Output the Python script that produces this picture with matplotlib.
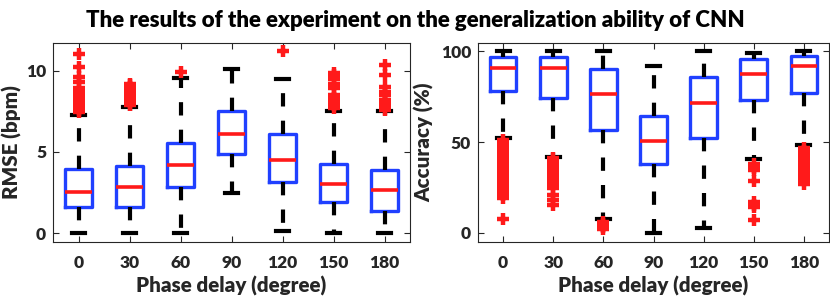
import matplotlib
matplotlib.use("Agg")
import matplotlib.pyplot as plt

phase_labels = ["0", "30", "60", "90", "120", "150", "180"]

# RMSE (bpm) box statistics
rmse_q1 = [1.60, 1.60, 2.84, 4.84, 3.15, 1.91, 1.36]
rmse_med = [2.55, 2.82, 4.20, 6.07, 4.49, 3.02, 2.67]
rmse_q3 = [3.97, 4.14, 5.53, 7.49, 6.11, 4.28, 3.91]
rmse_lo = [0.00, 0.00, 0.00, 2.49, 0.10, 0.00, 0.00]
rmse_hi = [7.26, 7.78, 9.57, 10.08, 9.47, 7.53, 7.53]
rmse_fliers = [
    [7.45, 7.6, 7.75, 7.9, 8.0, 8.15, 8.3, 8.5, 8.7, 8.9, 9.3, 9.6, 10.2, 11.03],
    [7.9, 8.0, 8.1, 8.2, 8.3, 8.4, 8.5, 8.6, 8.7, 8.8, 8.9, 9.0, 9.1, 9.2],
    [9.94],
    [],
    [11.19],
    [7.7, 7.9, 8.1, 8.3, 8.5, 8.9, 9.2, 9.5, 9.7, 9.84],
    [7.6, 7.8, 8.0, 8.2, 8.5, 8.7, 9.0, 9.73, 10.35],
]

# Accuracy (%) box statistics
acc_q1 = [78.0, 74.3, 56.9, 38.2, 52.3, 73.0, 77.2]
acc_med = [91.0, 91.0, 76.3, 50.8, 71.7, 87.5, 91.7]
acc_q3 = [96.9, 96.9, 90.1, 64.6, 85.9, 95.8, 97.2]
acc_lo = [52.3, 41.8, 7.5, 0.0, 2.6, 40.9, 48.3]
acc_hi = [100.0, 100.0, 100.0, 91.7, 100.0, 99.0, 100.0]
acc_fliers = [
    [51, 49, 47, 45, 43, 41, 39, 37, 35, 33, 31, 29, 27, 25, 23, 21, 19, 7.9],
    [41, 39, 37, 35, 33, 31, 29, 27, 25, 20.7, 18, 15.2],
    [6.0, 5.0, 4.0, 3.0, 2.0],
    [],
    [],
    [38, 36, 34.5, 28.6, 17, 15.5, 14.3, 7.0],
    [47, 45, 43, 41, 39, 37, 35, 33, 31, 29, 27],
]

title_text = "The results of the experiment on the generalization ability of CNN"
left_ylabel = "RMSE (bpm)"
right_ylabel = "Accuracy (%)"
xlabel_text = "Phase delay (degree)"

FONT = "Lato"
plt.rcParams["font.family"] = [FONT, "DejaVu Sans"]
WEIGHT = "heavy"

fig = plt.figure(figsize=(8.3, 2.97), dpi=100)
ax1 = fig.add_axes([53 / 830, 55 / 297, 357 / 830, 199 / 297])
ax2 = fig.add_axes([478 / 830, 55 / 297, 351 / 830, 199 / 297])

BLUE = "#2040ff"
RED = "#ff1a1a"
DARK = "#262626"


def build_stats(q1, med, q3, lo, hi, fl):
    out = []
    for i in range(len(q1)):
        out.append(dict(q1=q1[i], med=med[i], q3=q3[i], whislo=lo[i],
                        whishi=hi[i], fliers=fl[i], label=phase_labels[i]))
    return out


def draw(ax, stats):
    ax.bxp(stats, positions=range(1, len(stats) + 1), widths=0.53,
           boxprops=dict(color=BLUE, linewidth=2.4),
           medianprops=dict(color=RED, linewidth=2.6),
           whiskerprops=dict(color="black", linewidth=3.0,
                             linestyle=(0, (3.2, 3.4))),
           capprops=dict(color="black", linewidth=3.0),
           capwidths=0.26,
           flierprops=dict(marker="+", markersize=8.5, markeredgewidth=3.2,
                           markeredgecolor=RED, linestyle="none"))
    ax.set_xlim(0.5, 7.5)
    ax.tick_params(direction="in", length=4, width=0.8, top=True, right=True,
                   labelsize=12.5, colors=DARK)
    ax.tick_params(axis="x", pad=9)
    ax.tick_params(axis="y", pad=5)
    for lab in ax.get_xticklabels() + ax.get_yticklabels():
        lab.set_fontweight(WEIGHT)
        lab.set_color(DARK)
    for sp in ax.spines.values():
        sp.set_color(DARK)
        sp.set_linewidth(0.8)
    ax.set_xlabel(xlabel_text, fontsize=14.8, fontweight=WEIGHT,
                  color=DARK, labelpad=4)


draw(ax1, build_stats(rmse_q1, rmse_med, rmse_q3, rmse_lo, rmse_hi, rmse_fliers))
ax1.set_ylim(-0.55, 11.7)
ax1.set_yticks([0, 5, 10])
ax1.set_yticklabels(["0", "5", "10"])
ax1.set_ylabel(left_ylabel, fontsize=14.8, fontweight=WEIGHT, color=DARK)
ax1.yaxis.set_label_coords(-(53 - 12) / 357, 0.5)

draw(ax2, build_stats(acc_q1, acc_med, acc_q3, acc_lo, acc_hi, acc_fliers))
ax2.set_ylim(-5, 104.6)
ax2.set_yticks([0, 50, 100])
ax2.set_yticklabels(["0", "50", "100"])
ax2.set_ylabel(right_ylabel, fontsize=14.8, fontweight=WEIGHT, color=DARK)
ax2.yaxis.set_label_coords(-(478 - 424) / 351, 0.5)
for a in (ax1, ax2):
    a.yaxis.label.set_verticalalignment("center")

fig.text(0.5, 1 - 27 / 297, title_text, ha="center", va="baseline",
         fontsize=16, fontweight=WEIGHT, color="black")

fig.savefig("out.png", dpi=100)
